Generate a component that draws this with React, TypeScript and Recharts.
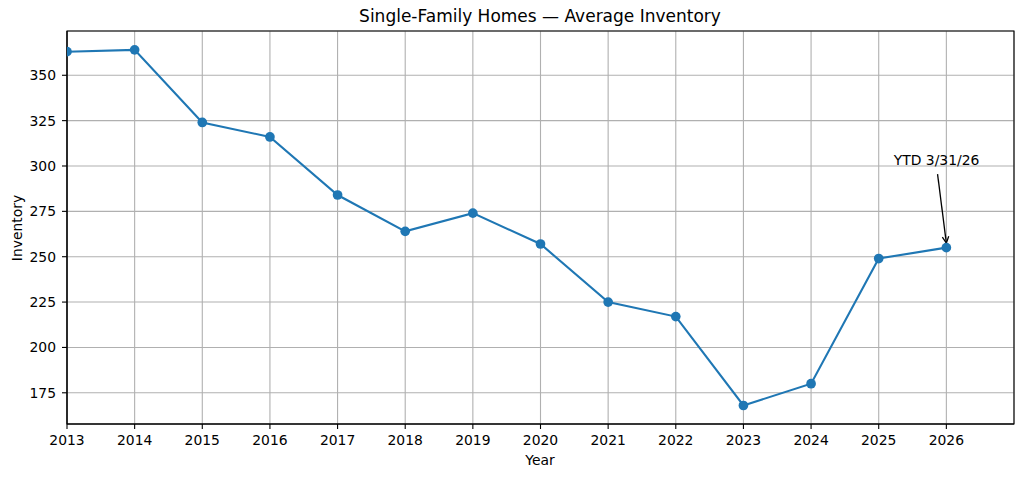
import React from 'react';
import { LineChart, Line, XAxis, YAxis, CartesianGrid, ReferenceArea, ReferenceLine } from 'recharts';

const years = [2013, 2014, 2015, 2016, 2017, 2018, 2019, 2020, 2021, 2022, 2023, 2024, 2025, 2026];
const inventory = [363, 364, 324, 316, 284, 264, 274, 257, 225, 217, 168, 180, 249, 255];
const xTicks = [2013, 2014, 2015, 2016, 2017, 2018, 2019, 2020, 2021, 2022, 2023, 2024, 2025, 2026];
const yTicks = [175, 200, 225, 250, 275, 300, 325, 350];
const annotationText = 'YTD 3/31/26';
const arrowFrom = { x: 2025.87, y: 295.5 };
const arrowTo = { x: 2026, y: 257.5 };

const data = years.map((y, i) => ({ year: y, value: inventory[i] }));

const X_DOMAIN: [number, number] = [2013, 2027];
const Y_DOMAIN: [number, number] = [157.8, 374.4];

const FONT = '"DejaVu Sans", sans-serif';

const ArrowShape = (props: any) => {
  const { x1, y1, x2, y2 } = props;
  if ([x1, y1, x2, y2].some((v) => typeof v !== 'number' || isNaN(v))) return null;
  const dx = x2 - x1;
  const dy = y2 - y1;
  const len = Math.sqrt(dx * dx + dy * dy);
  const ux = dx / len;
  const uy = dy / len;
  const hl = 6.5;
  const hw = 3.2;
  const bx = x2 - ux * hl;
  const by = y2 - uy * hl;
  const px = -uy;
  const py = ux;
  return (
    <g>
      <line x1={x1} y1={y1} x2={x2} y2={y2} stroke="#000" strokeWidth={1.3} />
      <polyline
        points={`${bx + px * hw},${by + py * hw} ${x2},${y2} ${bx - px * hw},${by - py * hw}`}
        fill="none"
        stroke="#000"
        strokeWidth={1.3}
      />
      <text x={x1 - 1} y={y1 - 9} textAnchor="middle" fontSize={13.9} fontFamily={FONT} fill="#000">
        {annotationText}
      </text>
    </g>
  );
};

export default function App() {
  return (
    <div style={{ position: 'absolute', left: 0, top: 0, width: 1024, height: 478, fontFamily: FONT, background: '#fff' }}>
      <LineChart width={1024} height={478} data={data} margin={{ top: 31, right: 10, bottom: 0, left: 0 }}>
        <CartesianGrid stroke="#b0b0b0" strokeWidth={1.1} />
        <XAxis
          dataKey="year"
          type="number"
          domain={X_DOMAIN}
          ticks={xTicks}
          allowDataOverflow
          height={54}
          tickSize={5}
          tickMargin={6}
          axisLine={{ stroke: '#000', strokeWidth: 1.1 }}
          tickLine={{ stroke: '#000', strokeWidth: 1.1 }}
          tick={{ fill: '#000', fontSize: 13.9, fontFamily: FONT }}
          interval={0}
        />
        <YAxis
          type="number"
          domain={Y_DOMAIN}
          ticks={yTicks}
          allowDataOverflow
          width={67}
          tickSize={5}
          tickMargin={6}
          axisLine={{ stroke: '#000', strokeWidth: 1.1 }}
          tickLine={{ stroke: '#000', strokeWidth: 1.1 }}
          tick={{ fill: '#000', fontSize: 13.9, fontFamily: FONT }}
          interval={0}
        />
        <Line
          type="linear"
          dataKey="value"
          stroke="#1f77b4"
          strokeWidth={2.1}
          dot={{ r: 4.85, fill: '#1f77b4', stroke: 'none' }}
          activeDot={false}
          isAnimationActive={false}
        />
        <ReferenceLine
          segment={[arrowFrom, arrowTo]}
          ifOverflow="visible"
          shape={ArrowShape}
        />
        <ReferenceArea
          x1={X_DOMAIN[0]}
          x2={X_DOMAIN[1]}
          y1={Y_DOMAIN[0]}
          y2={Y_DOMAIN[1]}
          fill="none"
          fillOpacity={0}
          stroke="#000"
          strokeWidth={1.1}
          ifOverflow="visible"
        />
      </LineChart>
      <div
        style={{
          position: 'absolute',
          left: 0,
          width: 1080,
          top: 6.3,
          textAlign: 'center',
          fontSize: 17,
          color: '#000',
          whiteSpace: 'nowrap',
          lineHeight: 'normal',
        }}
      >
        Single-Family Homes — Average Inventory
      </div>
      <div
        style={{
          position: 'absolute',
          left: 0,
          width: 1080,
          top: 452,
          textAlign: 'center',
          fontSize: 13.9,
          color: '#000',
          lineHeight: 'normal',
        }}
      >
        Year
      </div>
      <div
        style={{
          position: 'absolute',
          left: 17.2,
          top: 227.5,
          transform: 'translate(-50%, -50%) rotate(-90deg)',
          fontSize: 13.9,
          color: '#000',
          whiteSpace: 'nowrap',
          lineHeight: 'normal',
        }}
      >
        Inventory
      </div>
    </div>
  );
}
